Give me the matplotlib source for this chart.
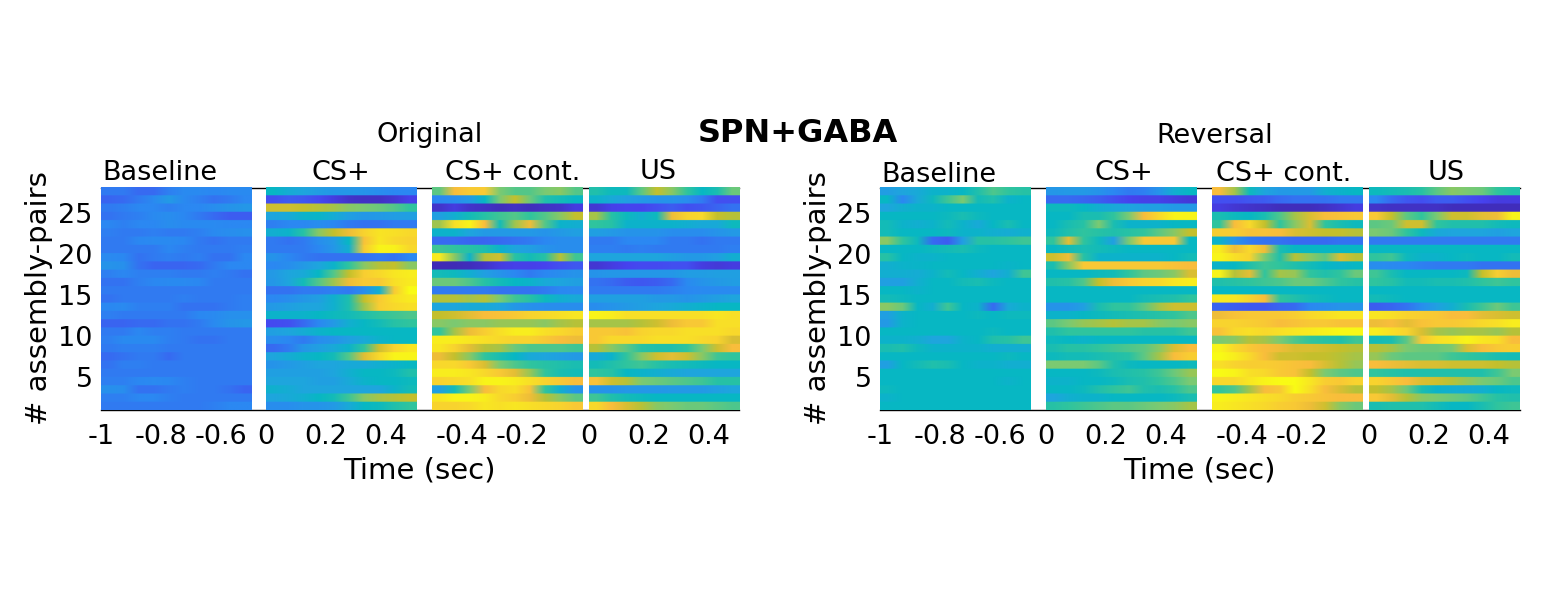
import numpy as np
import matplotlib
matplotlib.use("Agg")
import matplotlib.pyplot as plt
from matplotlib.colors import LinearSegmentedColormap

# values in percent of the colour range, rows listed top (28) to bottom (1)
orig_baseline = [
[18,18,16,16,19,21,21,20,21,21],[15,16,18,21,26,21,19,17,18,20],[18,19,20,20,19,20,20,22,24,25],
[17,18,19,21,22,20,18,16,14,14],[20,19,20,20,22,21,21,21,20,20],[19,18,18,19,18,18,19,21,22,23],
[18,18,20,21,21,20,18,17,18,18],[18,18,18,18,20,19,18,18,18,19],[21,20,17,18,19,18,19,17,17,20],
[24,23,17,15,15,15,16,18,20,20],[19,20,19,19,19,18,18,19,18,17],[17,17,19,20,21,21,20,18,18,18],
[18,18,18,18,18,18,18,18,18,18],[17,18,18,18,18,19,18,18,18,19],[20,21,19,19,19,17,17,17,18,19],
[19,18,18,18,18,18,20,21,23,23],[15,15,16,16,17,17,18,21,24,25],[18,18,20,19,19,18,18,18,18,18],
[19,21,21,21,19,18,17,17,18,18],[18,19,19,19,18,18,18,18,18,18],[16,17,18,18,16,18,18,18,18,18],
[17,19,19,18,18,18,18,18,18,18],[18,18,18,18,18,18,18,18,18,18],[19,19,20,21,20,19,18,18,18,18],
[23,22,17,17,18,19,18,18,17,15],[19,19,20,20,19,18,18,18,18,18],[18,18,18,18,18,18,18,19,20,20]]
orig_csp = [
[38,33,30,27,25,25,24,22,20,20],[12,14,13,11,8,5,4,4,6,9],[72,72,70,68,66,62,60,58,55,50],
[30,32,36,37,33,28,25,26,27,28],[19,20,20,22,20,18,17,17,18,18],[34,36,48,62,70,78,88,93,92,90],
[18,17,18,22,26,38,82,94,90,88],[18,18,18,20,25,34,85,98,97,90],[24,20,18,17,17,17,17,18,17,20],
[20,22,26,30,36,50,62,68,70,62],[26,30,32,38,55,70,86,90,94,96],[25,30,42,55,65,78,85,84,92,95],
[17,17,18,18,19,18,22,34,85,100],[20,22,25,28,35,45,70,85,92,95],[26,28,30,30,35,45,65,86,90,92],
[36,36,36,38,40,42,46,50,52,54],[11,12,16,20,26,34,38,42,48,50],[28,30,33,36,38,38,38,38,38,38],
[22,20,18,22,24,28,32,36,38,38],[16,18,25,28,32,36,50,72,88,94],[30,33,36,38,42,55,75,90,98,98],
[24,26,28,30,30,32,32,34,36,38],[28,28,28,28,30,34,38,38,40,46],[30,30,30,28,28,32,36,38,38,40],
[35,33,30,30,30,30,30,30,36,42],[30,32,34,38,42,52,62,66,68,70],[22,22,24,24,26,32,38,40,46,50]]
orig_cont = [
[56,80,85,85,60,55,55,60,62,55],[20,22,26,38,60,70,58,46,42,38],[5,8,5,4,3,4,3,4,5,8],
[28,34,42,48,52,55,50,55,62,70],[65,92,98,80,42,65,78,55,36,34],[36,36,30,26,26,26,26,24,26,28],
[16,16,15,15,16,17,18,20,22,22],[52,50,48,45,36,30,28,24,22,22],[95,62,36,68,72,48,42,48,68,52],
[2,2,3,5,8,9,9,10,12,13],[42,40,34,28,24,20,18,20,22,24],[58,58,54,48,42,38,36,32,30,28],
[18,18,18,18,17,17,17,18,20,21],[68,68,66,68,60,52,48,40,34,32],[30,30,32,32,30,25,23,22,22,22],
[70,72,76,80,82,84,88,90,92,94],[62,60,62,62,64,64,64,62,66,68],[50,66,78,86,92,96,96,92,90,86],
[96,96,94,92,90,88,88,84,80,78],[94,88,76,68,66,58,54,54,54,52],[78,70,62,50,44,38,32,30,28,26],
[90,90,84,74,60,54,50,48,46,44],[96,96,94,90,84,76,64,50,44,42],[88,90,92,98,98,96,92,88,84,80],
[28,42,60,80,90,92,82,50,34,24],[94,98,98,96,90,86,78,68,62,56],[88,88,90,94,92,94,92,90,88,84]]
orig_us = [
[46,40,40,56,70,62,50,38,44,58],[36,32,28,26,24,24,22,18,12,12],[6,9,10,10,12,14,12,13,15,17],
[66,48,40,34,40,78,88,90,70,68],[50,48,36,36,36,36,34,32,32,40],[28,26,24,24,24,22,22,22,24,26],
[18,18,20,20,20,18,18,17,18,18],[19,19,18,19,18,18,18,18,18,19],[30,30,30,30,30,28,26,26,28,34],
[6,8,10,11,11,12,12,8,7,8],[24,25,25,25,25,25,27,27,28,28],[17,16,14,13,14,16,21,24,26,27],
[18,18,18,18,18,19,20,21,21,21],[28,28,28,28,26,26,24,26,28,30],[22,24,26,28,30,32,34,36,38,38],
[98,96,92,92,92,92,92,92,94,92],[66,66,66,68,72,78,84,84,92,92],[84,84,82,88,90,90,92,92,92,90],
[84,90,90,90,92,92,92,90,88,74],[68,62,56,48,46,46,50,60,72,80],[32,36,50,62,72,76,72,62,52,50],
[42,46,50,52,48,44,42,40,38,38],[50,48,38,36,34,32,30,30,30,30],[82,72,68,60,58,56,54,52,48,48],
[24,24,25,25,25,26,26,26,28,30],[52,46,42,40,38,38,38,38,38,38],[90,80,74,68,62,60,58,58,56,54]]
rev_baseline = [
[27,30,32,36,36,38,46,54,50,48],[38,20,32,40,52,60,42,46,36,38],[30,34,36,36,38,38,38,38,38,38],
[38,38,38,38,40,44,40,38,38,38],[42,36,34,36,42,36,32,38,44,38],[42,38,38,38,40,36,36,34,33,35],
[62,50,40,16,14,28,48,48,50,52],[38,38,38,40,42,44,40,38,38,38],[48,38,36,36,38,38,38,38,38,38],
[34,36,37,38,38,38,38,38,37,38],[34,34,33,36,42,38,34,30,34,52],[28,28,34,38,38,42,44,40,38,38],
[38,38,36,38,38,38,38,38,38,38],[42,40,38,38,38,38,38,38,38,38],[62,58,38,34,52,38,36,16,32,36],
[28,36,38,38,38,38,40,38,40,40],[26,36,38,38,38,38,38,38,38,38],[38,38,38,38,38,38,38,40,38,38],
[36,36,34,30,30,36,38,46,48,52],[44,46,40,36,36,36,36,34,34,34],[38,38,38,38,38,38,38,38,40,38],
[28,38,42,46,44,38,36,36,34,34],[38,38,38,38,38,38,38,38,38,38],[38,38,38,38,38,38,38,38,36,38],
[40,38,38,38,38,38,38,38,38,38],[36,38,38,38,38,38,38,38,38,38],[38,38,38,38,38,38,38,38,38,38]]
rev_csp = [
[25,26,26,24,20,18,19,24,34,38],[16,16,15,14,12,10,9,9,8,7],[40,40,38,34,32,30,28,28,26,26],
[38,38,44,44,50,60,80,90,98,98],[38,44,48,60,44,36,36,36,38,38],[40,46,50,48,46,48,50,56,62,70],
[50,76,50,40,28,60,84,84,84,38],[38,42,44,42,40,38,38,38,38,38],[72,78,48,36,36,36,36,36,38,42],
[44,62,84,84,84,84,84,84,82,80],[38,38,38,40,42,50,56,58,62,74],[46,48,54,70,78,84,88,90,94,96],
[38,38,38,38,38,38,38,38,38,38],[38,38,38,38,38,38,42,44,46,50],[24,24,28,44,50,50,56,66,72,72],
[36,36,38,40,42,44,46,48,50,54],[56,60,64,66,68,66,66,62,60,62],[46,50,50,50,50,50,48,48,48,52],
[40,38,36,38,38,38,38,38,38,38],[44,48,48,50,52,54,56,62,74,80],[40,42,42,44,46,48,56,66,80,86],
[60,60,60,56,46,40,38,38,38,40],[38,38,38,40,44,46,48,52,58,64],[36,36,38,38,40,44,46,50,54,60],
[38,38,40,46,50,52,46,44,48,54],[30,34,36,36,38,38,38,38,40,44],[48,50,52,54,56,56,58,60,62,66]]
rev_cont = [
[80,66,40,30,26,26,26,34,36,38],[12,12,13,14,16,17,17,17,18,18],[8,6,5,4,3,3,3,4,6,8],
[44,40,38,44,54,66,74,80,82,84],[50,80,90,70,50,62,74,50,44,40],[86,86,82,82,80,74,72,70,70,68],
[36,24,18,17,17,16,16,16,17,17],[96,78,90,78,44,38,38,38,38,38],[98,92,88,60,46,68,62,56,74,68],
[36,38,46,52,50,46,42,38,36,38],[98,68,76,50,66,64,50,46,50,58],[46,48,50,52,54,58,58,54,50,48],
[38,38,38,38,38,38,38,38,38,38],[95,94,88,80,50,46,42,40,38,38],[15,14,13,13,15,16,20,22,24,24],
[78,82,84,84,84,86,90,92,94,94],[88,88,86,84,80,82,84,84,82,82],[82,90,92,90,92,94,95,97,99,99],
[60,62,68,66,60,54,50,48,46,52],[98,90,84,80,78,74,74,72,70,68],[100,96,90,80,72,72,70,70,68,66],
[92,88,86,86,84,82,80,74,68,64],[100,98,92,90,84,82,70,60,56,54],[90,90,94,98,100,100,94,86,84,88],
[50,54,66,80,84,100,92,80,74,68],[98,96,94,92,90,86,84,82,80,80],[96,94,92,90,86,84,78,72,62,58]]
rev_us = [
[40,42,44,48,56,62,60,58,50,46],[20,16,13,12,14,14,12,10,8,8],[5,4,4,4,4,3,3,3,3,3],
[84,70,56,50,60,72,72,76,78,98],[56,58,72,72,50,46,46,46,42,40],[60,58,50,40,32,30,30,30,28,30],
[18,18,18,18,18,18,18,18,18,18],[38,38,38,38,38,38,38,38,38,38],[50,52,40,36,36,38,40,38,38,42],
[22,21,20,19,18,18,18,17,17,17],[52,44,38,38,38,38,40,70,86,78],[50,48,42,42,44,44,46,50,52,50],
[38,38,38,38,38,38,38,38,38,38],[42,40,38,38,38,38,38,38,38,38],[14,15,17,22,28,34,44,52,58,52],
[94,92,88,86,84,80,80,76,74,72],[78,80,76,82,84,84,86,90,92,96],[96,92,88,74,66,64,66,66,64,68],
[42,44,56,84,92,94,98,94,92,80],[68,66,60,58,58,60,74,80,84,86],[64,58,56,56,56,52,50,48,44,42],
[80,78,76,74,74,72,72,72,70,68],[50,48,46,46,46,46,46,46,52,60],[88,84,80,74,72,68,64,60,58,54],
[70,66,58,44,36,34,33,34,38,40],[84,76,68,62,60,58,56,52,48,46],[44,46,46,46,42,38,38,44,50,52]]

segment_labels = ["Baseline", "CS+", "CS+ cont.", "US"]
tick_labels = [["-1", "-0.8", "-0.6"], ["0", "0.2", "0.4"], ["-0.4", "-0.2"], ["0", "0.2", "0.4"]]
tick_times = [[-1, -0.8, -0.6], [0, 0.2, 0.4], [-0.4, -0.2], [0, 0.2, 0.4]]
segment_starts = [-1, 0, -0.5, 0]
y_ticks = [5, 10, 15, 20, 25]

parula = LinearSegmentedColormap.from_list("parula_like", [
    (0.00, "#3e26a8"), (0.10, "#4743f0"), (0.20, "#2b88f2"), (0.30, "#1ea6dd"),
    (0.38, "#07b7c4"), (0.50, "#2ec49f"), (0.60, "#7bca72"), (0.70, "#c3c02c"),
    (0.80, "#f9bd3c"), (0.90, "#f8d82c"), (1.00, "#f9fb15")])

W, H = 1568, 608
fig = plt.figure(figsize=(W / 100, H / 100), dpi=100)
plt.rcParams["font.family"] = "DejaVu Sans"
TICK = 19.5
LAB = 21


def axpx(l, r, t, b):
    return fig.add_axes([l / W, 1 - b / H, (r - l) / W, (b - t) / H])


def group(left, right, starts_px, panels, sublabels, name, name_xy, xlabel_x, ylabel_x):
    ax = axpx(left, right, 188, 410)
    ax.set_xlim(left, right)
    ax.set_ylim(1, 28)
    for p0, data in zip(starts_px, panels):
        a = np.repeat(np.array(data) / 100.0, 10, axis=0)
        ax.imshow(a, extent=(p0, p0 + 150.5, 0.97, 28.03), aspect="auto", cmap=parula, vmin=0, vmax=1,
                  interpolation="bilinear", zorder=3, clip_on=False)
    ax.set_xlim(left, right)
    ax.set_ylim(1, 28)
    xt, xl = [], []
    for p0, s, tt, ll in zip(starts_px, segment_starts, tick_times, tick_labels):
        xt += [p0 + (t - s) * 300 for t in tt]
        xl += ll
    ax.set_xticks(xt, xl, fontsize=TICK)
    ax.set_yticks(y_ticks, [str(v) for v in y_ticks], fontsize=TICK)
    ax.tick_params(length=0)
    ax.tick_params(axis="x", pad=10)
    ax.tick_params(axis="y", pad=6)
    ax.spines["left"].set_visible(False)
    ax.spines["right"].set_visible(False)
    for s in ("top", "bottom"):
        ax.spines[s].set_linewidth(1.0)
        ax.spines[s].set_zorder(1)
    for (tx, ty), lab in zip(sublabels, segment_labels):
        fig.text(tx / W, 1 - (ty + 1) / H, lab, fontsize=TICK, ha="center", va="center")
    fig.text(name_xy[0] / W, 1 - (name_xy[1] + 1) / H, name, fontsize=TICK, ha="center", va="center")
    fig.text(xlabel_x / W, 1 - 470.5 / H, "Time (sec)", fontsize=LAB, ha="center", va="center")
    fig.text(ylabel_x / W, 1 - 298 / H, "# assembly-pairs", fontsize=LAB, ha="center", va="center",
             rotation=90)


group(101, 739, [101, 266, 432, 589], [orig_baseline, orig_csp, orig_cont, orig_us],
      [(160, 172), (341, 172), (513, 172), (658, 171)], "Original", (430, 134), 419, 39)
group(880, 1520, [880, 1046, 1212, 1369], [rev_baseline, rev_csp, rev_cont, rev_us],
      [(939, 174), (1124, 172), (1284, 173), (1446, 172)], "Reversal", (1215, 135), 1199, 818)

fig.text(798 / W, 1 - 134 / H, "SPN+GABA", fontsize=23, fontweight="bold", ha="center", va="center")
fig.savefig("out.png", dpi=100)
